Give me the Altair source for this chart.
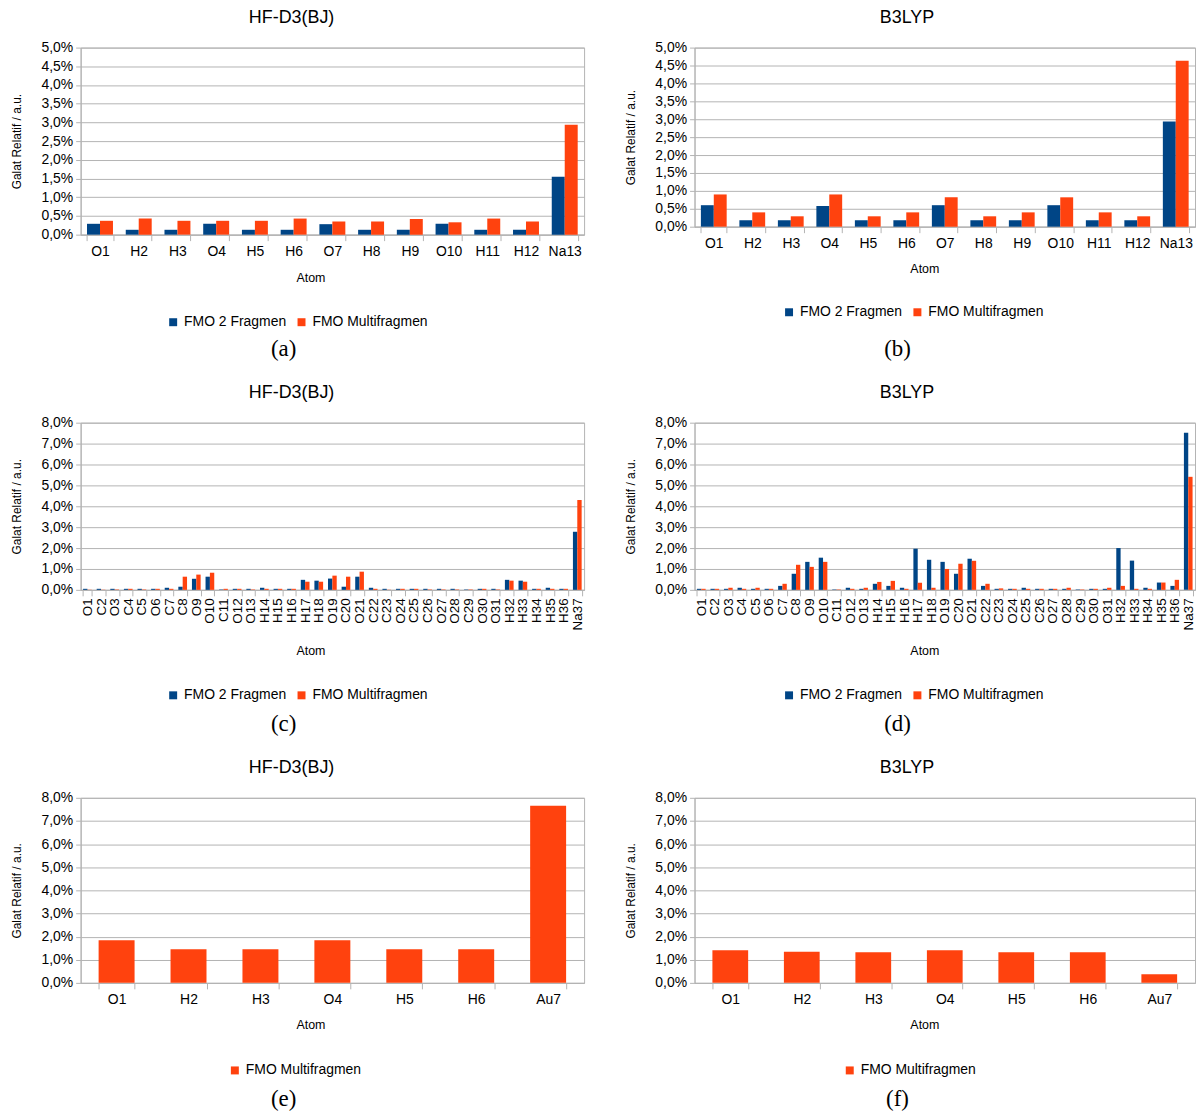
import altair as alt
import pandas as pd

SERIES = ["FMO 2 Fragmen", "FMO Multifragmen"]
COLORS = ["#004586", "#ff420e"]

ATOMS_13 = ["O1", "H2", "H3", "O4", "H5", "H6", "O7", "H8", "H9", "O10", "H11", "H12", "Na13"]
A_FMO2 = [0.29, 0.13, 0.13, 0.29, 0.13, 0.13, 0.28, 0.13, 0.13, 0.29, 0.13, 0.13, 1.55]
A_MULTI = [0.37, 0.43, 0.37, 0.37, 0.37, 0.43, 0.35, 0.35, 0.42, 0.33, 0.43, 0.35, 2.94]
B_FMO2 = [0.60, 0.18, 0.18, 0.58, 0.18, 0.18, 0.60, 0.18, 0.18, 0.60, 0.18, 0.18, 2.94]
B_MULTI = [0.90, 0.40, 0.29, 0.90, 0.29, 0.40, 0.82, 0.29, 0.40, 0.82, 0.40, 0.29, 4.63]

ATOMS_37 = ["O1", "C2", "O3", "C4", "C5", "O6", "C7", "C8", "O9", "O10", "C11", "O12", "O13",
            "H14", "H15", "H16", "H17", "H18", "O19", "C20", "O21", "C22", "C23", "O24", "C25",
            "C26", "O27", "O28", "C29", "O30", "O31", "H32", "H33", "H34", "H35", "H36", "Na37"]
C_FMO2 = [0.05, 0.05, 0.05, 0.05, 0.05, 0.05, 0.10, 0.15, 0.53, 0.63, 0.02, 0.05, 0.05,
          0.10, 0.05, 0.05, 0.48, 0.44, 0.54, 0.15, 0.63, 0.10, 0.05, 0.05, 0.05,
          0.05, 0.05, 0.05, 0.02, 0.05, 0.05, 0.48, 0.44, 0.05, 0.10, 0.05, 2.78]
C_MULTI = [0.01, 0.01, 0.02, 0.05, 0.02, 0.05, 0.05, 0.63, 0.73, 0.82, 0.05, 0.05, 0.02,
           0.05, 0.05, 0.05, 0.39, 0.39, 0.68, 0.63, 0.87, 0.05, 0.01, 0.05, 0.05,
           0.02, 0.02, 0.02, 0.02, 0.05, 0.02, 0.44, 0.39, 0.05, 0.05, 0.05, 4.30]
D_FMO2 = [0.05, 0.05, 0.05, 0.10, 0.05, 0.05, 0.19, 0.77, 1.34, 1.54, 0.02, 0.10, 0.05,
          0.29, 0.19, 0.10, 1.97, 1.44, 1.34, 0.77, 1.49, 0.19, 0.05, 0.05, 0.10,
          0.05, 0.05, 0.05, 0.02, 0.05, 0.05, 2.00, 1.40, 0.10, 0.35, 0.19, 7.52]
D_MULTI = [0.05, 0.05, 0.10, 0.05, 0.10, 0.05, 0.29, 1.20, 1.10, 1.34, 0.02, 0.05, 0.10,
           0.38, 0.43, 0.05, 0.34, 0.10, 1.00, 1.25, 1.39, 0.29, 0.07, 0.05, 0.05,
           0.05, 0.05, 0.10, 0.02, 0.05, 0.10, 0.19, 0.05, 0.05, 0.35, 0.48, 5.41]

ATOMS_7 = ["O1", "H2", "H3", "O4", "H5", "H6", "Au7"]
E_MULTI = [1.84, 1.45, 1.45, 1.84, 1.45, 1.45, 7.66]
F_MULTI = [1.41, 1.35, 1.32, 1.41, 1.32, 1.32, 0.37]

TICKS_5 = [0, 0.5, 1, 1.5, 2, 2.5, 3, 3.5, 4, 4.5, 5]
TICKS_8 = [0, 1, 2, 3, 4, 5, 6, 7, 8]

FONT = "Liberation Sans"
GRID = "#b3b3b3"
LABEL_EXPR = "replace(format(datum.value, '.1f'), '.', ',') + '%'"


def panel(atoms, series, title, ticks, caption, w, h, pad, title_dx, leg_x, leg_y, atom_y):
    rows = []
    for name, vals in series:
        for a, v in zip(atoms, vals):
            rows.append({"Atom": a, "Series": name, "Value": v})
    df = pd.DataFrame(rows)
    names = [n for n, _ in series]
    cols = [COLORS[SERIES.index(n)] for n in names]
    rotated = len(atoms) > 20
    xaxis = alt.Axis(
        title="Atom", labelAngle=-90 if rotated else 0, tickBand="extent",
        tickSize=6, labelPadding=2 if rotated else 4,
        labelFontSize=13.5 if rotated else 14,
        titleFontSize=12.5, titleFontWeight="normal", titleX=231, titleY=atom_y,
        titleBaseline="middle", titleAlign="center",
        domainColor=GRID, tickColor=GRID, labelColor="#000000", titleColor="#000000",
    )
    yaxis = alt.Axis(
        title="Galat Relatif / a.u.", values=ticks, labelExpr=LABEL_EXPR,
        tickSize=5, labelPadding=3, labelFontSize=14, grid=True, gridColor=GRID,
        domainColor=GRID, tickColor=GRID, labelColor="#000000", titleColor="#000000",
        titleFontSize=12, titleFontWeight="normal", titleX=-64, titleY=h / 2,
        titleBaseline="middle", titleAlign="center", titleAngle=270,
    )
    enc = dict(
        x=alt.X("Atom:N", sort=atoms, axis=xaxis,
                scale=alt.Scale(paddingInner=pad, paddingOuter=pad / 2)),
        y=alt.Y("Value:Q", axis=yaxis,
                scale=alt.Scale(domain=[ticks[0], ticks[-1]], nice=False)),
        color=alt.Color("Series:N", sort=names,
                        scale=alt.Scale(domain=names, range=cols),
                        legend=alt.Legend(orient="none", legendX=leg_x, legendY=leg_y,
                                          direction="horizontal", title=None,
                                          symbolType="square", symbolSize=64,
                                          symbolStrokeWidth=0, labelFontSize=14,
                                          labelColor="#000000", columnPadding=8,
                                          labelOffset=4)),
    )
    if len(names) > 1:
        enc["xOffset"] = alt.XOffset("Series:N", sort=names)
    bars = alt.Chart(df).mark_bar().encode(**enc)
    ttl = alt.Chart(pd.DataFrame({"t": [title]})).mark_text(
        font=FONT, fontSize=18, color="#000000", baseline="middle", align="center"
    ).encode(x=alt.value(w / 2 + title_dx), y=alt.value(-30), text="t:N")
    cap = alt.Chart(pd.DataFrame({"t": [caption]})).mark_text(
        font="Liberation Serif", fontSize=23, color="#000000", baseline="middle", align="center"
    ).encode(x=alt.value(204), y=alt.value(303), text="t:N")
    return alt.layer(bars, ttl, cap).properties(width=w, height=h)


pa = panel(ATOMS_13, [(SERIES[0], A_FMO2), (SERIES[1], A_MULTI)], "HF-D3(BJ)", TICKS_5, "(a)",
           506, 188, 0.33, -41, 86, 269, 43)
pb = panel(ATOMS_13, [(SERIES[0], B_FMO2), (SERIES[1], B_MULTI)], "B3LYP", TICKS_5, "(b)",
           503, 180, 0.33, -38, 88, 259, 42)
pc = panel(ATOMS_37, [(SERIES[0], C_FMO2), (SERIES[1], C_MULTI)], "HF-D3(BJ)", TICKS_8, "(c)",
           506, 168, 0.36, -41, 86, 267, 61)
pd_ = panel(ATOMS_37, [(SERIES[0], D_FMO2), (SERIES[1], D_MULTI)], "B3LYP", TICKS_8, "(d)",
            503, 168, 0.36, -38, 88, 267, 61)
pe = panel(ATOMS_7, [(SERIES[1], E_MULTI)], "HF-D3(BJ)", TICKS_8, "(e)",
           506, 186, 0.5, -41, 148, 267, 42)
pf = panel(ATOMS_7, [(SERIES[1], F_MULTI)], "B3LYP", TICKS_8, "(f)",
           503, 186, 0.5, -38, 149, 267, 42)


def row(p1, p2):
    return (alt.hconcat(p1, p2, spacing=111, bounds="flush")
            .resolve_scale(color="independent", xOffset="independent",
                           x="independent", y="independent")
            .resolve_legend(color="independent"))


chart = (alt.vconcat(row(pa, pb), row(pc, pd_), row(pe, pf), spacing=21)
         .resolve_scale(color="independent", xOffset="independent",
                        x="independent", y="independent")
         .resolve_legend(color="independent")
         .properties(padding={"left": 2, "top": -3, "right": 0, "bottom": 0})
         .configure(font=FONT)
         .configure_view(stroke=GRID, strokeWidth=1))

chart.save("out.html", embed_options={"renderer": "svg", "actions": False})
